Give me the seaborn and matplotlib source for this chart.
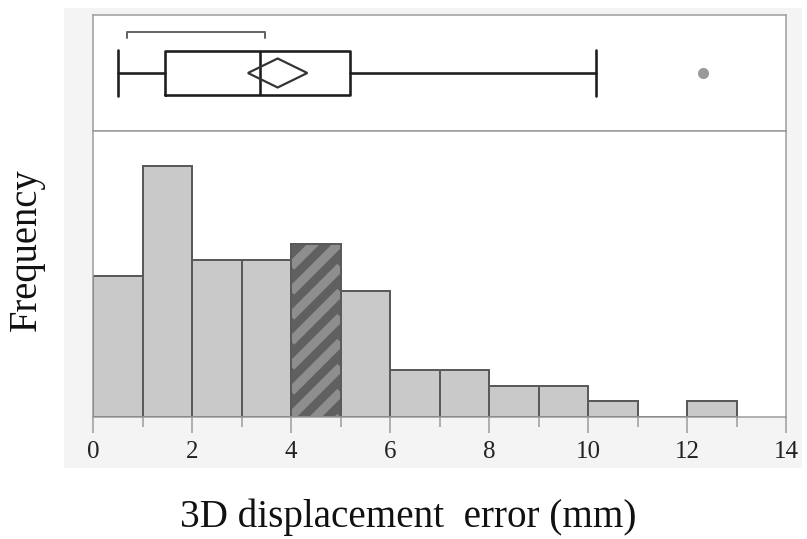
import matplotlib
matplotlib.use("Agg")
import numpy as np
import matplotlib.pyplot as plt
from matplotlib.patches import Rectangle
from matplotlib.collections import LineCollection
from matplotlib.ticker import MultipleLocator
import seaborn as sns

# ---------------- data ----------------
bin_left = [0, 1, 2, 3, 4, 5, 6, 7, 8, 9, 10, 11, 12]
bin_edges = [0, 1, 2, 3, 4, 5, 6, 7, 8, 9, 10, 11, 12, 13]
counts = [9, 16, 10, 10, 11, 8, 3, 3, 2, 2, 1, 0, 1]
highlight_bin = 4          # left edge of the hatched bin

# box-plot summary (mm)
whisker_low = 0.5
q1 = 1.45
median = 3.38
q3 = 5.2
whisker_high = 10.17
outliers = [12.32]
mean = 3.73
mean_ci = [3.13, 4.33]
shortest_half = [0.69, 3.47]

xticks_major = [0, 2, 4, 6, 8, 10, 12, 14]
xlabel = "3D displacement  error (mm)"
ylabel = "Frequency"

# ---------------- style ----------------
DPI = 150
PX = 72.0 / DPI           # points per pixel
sns.set_theme(style="white")
plt.rcParams["font.family"] = ["Liberation Serif", "DejaVu Serif"]

bar_face = "#c9c9c9"
bar_edge = "#5a5a5a"
frame_col = "#9a9a9a"
box_col = "#1e1e1e"

fig = plt.figure(figsize=(807 / DPI, 539 / DPI), dpi=DPI)
fig.patch.set_facecolor("white")

# faint grey plate behind the chart
fig.patches.append(Rectangle((64 / 807, 1 - 468 / 539), (802 - 64) / 807, (468 - 8) / 539,
                             transform=fig.transFigure, facecolor="#f4f4f4",
                             edgecolor="none", zorder=-10))

left = 93 / 807
width = (786 - 93) / 807
ax_box = fig.add_axes([left, 1 - 131 / 539, width, (131 - 15) / 539])
ax_hist = fig.add_axes([left, 1 - 417 / 539, width, (417 - 131) / 539], sharex=ax_box)

# ---------------- histogram ----------------
sns.histplot(x=bin_left, weights=counts, bins=bin_edges, ax=ax_hist,
             color=bar_face, edgecolor=bar_edge, linewidth=2 * PX, alpha=1.0)
ax_hist.set_xlim(0, 14)
ax_hist.set_ylim(0, 18.2)

# diagonal stripe pattern on the highlighted bin (clipped to the seaborn bar)
fig.canvas.draw()
t0 = ax_hist.transData.transform((0, 0))
ppx = ax_hist.transData.transform((1, 0))[0] - t0[0]
ppy = ax_hist.transData.transform((0, 1))[1] - t0[1]
for p in list(ax_hist.patches):
    if abs(p.get_x() - highlight_bin) < 1e-9:
        p.set_facecolor("#606060")
        x0, x1 = p.get_x(), p.get_x() + p.get_width()
        y0, y1 = p.get_y(), p.get_y() + p.get_height()
        slope = ppx / ppy                 # 45 degrees on screen
        period = 25.0 / ppy               # vertical stripe period (px -> data)
        span = (x1 - x0) * slope
        segs = []
        for c in np.arange(y0 - span - period, y1 + period, period):
            segs.append([(x0, c), (x1, c + span)])
        lc = LineCollection(segs, colors="#8e8e8e", linewidths=9 * PX,
                            zorder=p.get_zorder() + 0.05)
        ax_hist.add_collection(lc)
        lc.set_clip_path(p)
        ax_hist.add_patch(Rectangle((x0, y0), x1 - x0, y1 - y0, fill=False,
                                    edgecolor=bar_edge, linewidth=2 * PX,
                                    zorder=p.get_zorder() + 0.1))

ax_hist.set_xlim(0, 14)
ax_hist.set_ylim(0, 18.2)
ax_hist.set_yticks([])
ax_hist.set_xticks(xticks_major)
ax_hist.xaxis.set_minor_locator(MultipleLocator(1))
ax_hist.tick_params(axis="x", which="major", bottom=True, length=16 * PX, width=1.5 * PX,
                    color=frame_col, direction="out", pad=4, labelsize=12, labelcolor="#222222")
ax_hist.tick_params(axis="x", which="minor", bottom=True, length=10 * PX, width=1.5 * PX,
                    color=frame_col, direction="out")
for s in ax_hist.spines.values():
    s.set_color(frame_col)
    s.set_linewidth(1.5 * PX)
ax_hist.set_xlabel(xlabel, fontsize=18.8, color="#111111")
ax_hist.xaxis.set_label_coords((408 - 93) / 693, -0.285)
ax_hist.set_ylabel(ylabel, fontsize=18.5, color="#111111")
ax_hist.yaxis.set_label_coords((45 - 93) / 693, (417 - 250) / 286)

# ---------------- box plot ----------------
stats = [dict(whislo=whisker_low, q1=q1, med=median, q3=q3, whishi=whisker_high,
              fliers=outliers, mean=mean)]
line_kw = dict(color=box_col, linewidth=2.6 * PX)
bxp_kw = dict(positions=[0], widths=0.76, capwidths=0.8, showmeans=False, showfliers=True,
              patch_artist=False, boxprops=line_kw, whiskerprops=line_kw, capprops=line_kw,
              medianprops=line_kw,
              flierprops=dict(marker="o", markerfacecolor="#9a9a9a", markeredgecolor="#9a9a9a",
                              markersize=9 * PX))
try:
    ax_box.bxp(stats, orientation="horizontal", **bxp_kw)
except TypeError:
    ax_box.bxp(stats, vert=False, **bxp_kw)

# mean diamond
dh = 0.25
ax_box.fill([mean_ci[0], mean, mean_ci[1], mean], [0, dh, 0, -dh],
            fill=False, edgecolor="#333333", linewidth=2.2 * PX, zorder=5)
# shortest-half bracket
ax_box.plot([shortest_half[0], shortest_half[0], shortest_half[1], shortest_half[1]],
            [0.6, 0.71, 0.71, 0.6], color="#666666", linewidth=2 * PX)

ax_box.set_ylim(-1, 1)
ax_box.set_xlim(0, 14)
ax_box.set_yticks([])
ax_box.tick_params(axis="x", which="both", bottom=False, labelbottom=False)
for s in ax_box.spines.values():
    s.set_color(frame_col)
    s.set_linewidth(1.5 * PX)
ax_box.set_facecolor("white")
ax_hist.set_facecolor("white")

fig.savefig("out.png", dpi=DPI)
